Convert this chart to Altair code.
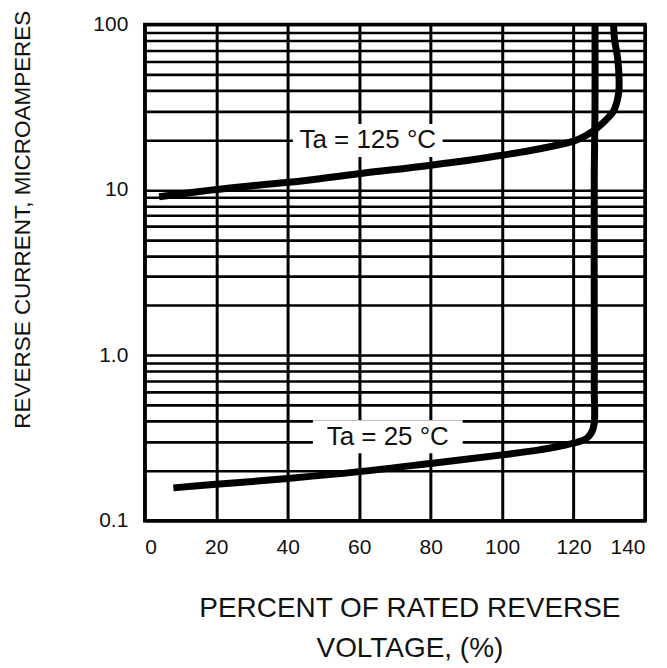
import altair as alt
import pandas as pd

# ---- data ----
v_125 = [4, 19, 30, 45, 61, 80, 100, 111, 120, 123.5, 126.5, 129.3, 131.2, 132.2, 132.7, 132.7, 132.4, 132.0, 131.5, 131.2]
i_125 = [9.1, 10.0, 10.6, 11.4, 12.6, 14.1, 16.2, 17.8, 19.7, 21.3, 23.6, 26.8, 30.0, 34.5, 40, 49.3, 60.6, 69.7, 80, 100]

v_25 = [8, 20, 40, 60, 80, 100, 110, 117, 121, 123.5, 125.0, 125.8, 125.8, 125.8, 125.8, 126.0, 126.0]
i_25 = [0.158, 0.166, 0.180, 0.198, 0.222, 0.250, 0.267, 0.285, 0.298, 0.313, 0.34, 0.39, 0.6, 1.0, 13, 30, 100]

label_text = ["Ta = 125 \u00b0C", "Ta = 25 \u00b0C"]
label_v = [62.4, 68]
label_i = [19.9, 0.322]

x_ticks = [0, 20, 40, 60, 80, 100, 120, 140]
y_decades = [0.1, 1, 10, 100]
y_decade_labels = ["0.1", "1.0", "10", "100"]
y_grid = [round(k * d, 4) for d in [0.1, 1, 10] for k in range(1, 10)] + [100]

x_title = ["PERCENT OF RATED REVERSE", "VOLTAGE, (%)"]
y_title = "REVERSE CURRENT, MICROAMPERES"

# ---- tables ----
rows = []
for n, (v, i) in enumerate(zip(v_125, i_125)):
    rows.append({"curve": "125", "v": v, "i": i, "ord": n})
for n, (v, i) in enumerate(zip(v_25, i_25)):
    rows.append({"curve": "25", "v": v, "i": i, "ord": n})
curves = pd.DataFrame(rows)
labels = pd.DataFrame({"text": label_text, "v": label_v, "i": label_i})

label_expr = " : ".join(
    f"datum.value == {v} ? '{t}'" for v, t in zip(y_decades, y_decade_labels)
) + " : ''"

FONT = "Liberation Sans, Arial, sans-serif"

x_enc = alt.X(
    "v:Q",
    scale=alt.Scale(domain=[0, 140], nice=False),
    axis=alt.Axis(
        values=x_ticks, grid=True, gridColor="black", gridWidth=3, gridOpacity=1,
        ticks=False, tickSize=0, domain=False, labelPadding=16,
        labelFont=FONT, labelFontSize=21, labelColor="#111",
        title=x_title, titleFont=FONT, titleFontSize=28, titleFontWeight="normal",
        titleColor="#111", titleLineHeight=40, titleX=265, titleY=74,
        titleAlign="center", titleBaseline="top",
    ),
)
y_enc = alt.Y(
    "i:Q",
    scale=alt.Scale(type="log", domain=[0.1, 100], nice=False),
    axis=alt.Axis(
        values=y_grid, labelExpr=label_expr, grid=True, gridColor="black",
        gridWidth=2.6, gridOpacity=1, ticks=False, tickSize=0, domain=False,
        labelPadding=17, labelFont=FONT, labelFontSize=21, labelColor="#111",
        title=y_title, titleFont=FONT, titleFontSize=22.5, titleFontWeight="normal",
        titleColor="#111", titleAngle=270, titleX=-122, titleY=195,
        titleAlign="center", titleBaseline="middle",
    ),
)

lines = alt.Chart(curves).mark_line(
    color="black", strokeWidth=7, interpolate="catmull-rom", strokeCap="butt"
).encode(x=x_enc, y=y_enc, detail="curve:N", order="ord:Q")

boxes = alt.Chart(labels).mark_point(
    shape="M-1,-0.22L1,-0.22L1,0.22L-1,0.22Z", filled=True, fill="white",
    opacity=1, strokeWidth=0, size=150 * 150,
).encode(x="v:Q", y="i:Q")

texts = alt.Chart(labels).mark_text(
    font=FONT, fontSize=26, color="#111", align="center", baseline="middle"
).encode(x="v:Q", y="i:Q", text="text:N")

chart = alt.layer(lines, boxes, texts).properties(
    width=501, height=497,
    autosize=alt.AutoSizeParams(type="none"),
    padding={"left": 137, "top": 16, "right": 14, "bottom": 146},
).configure_view(stroke="black", strokeWidth=3.5)

chart.save("out.html", embed_options={"renderer": "svg", "actions": False})
